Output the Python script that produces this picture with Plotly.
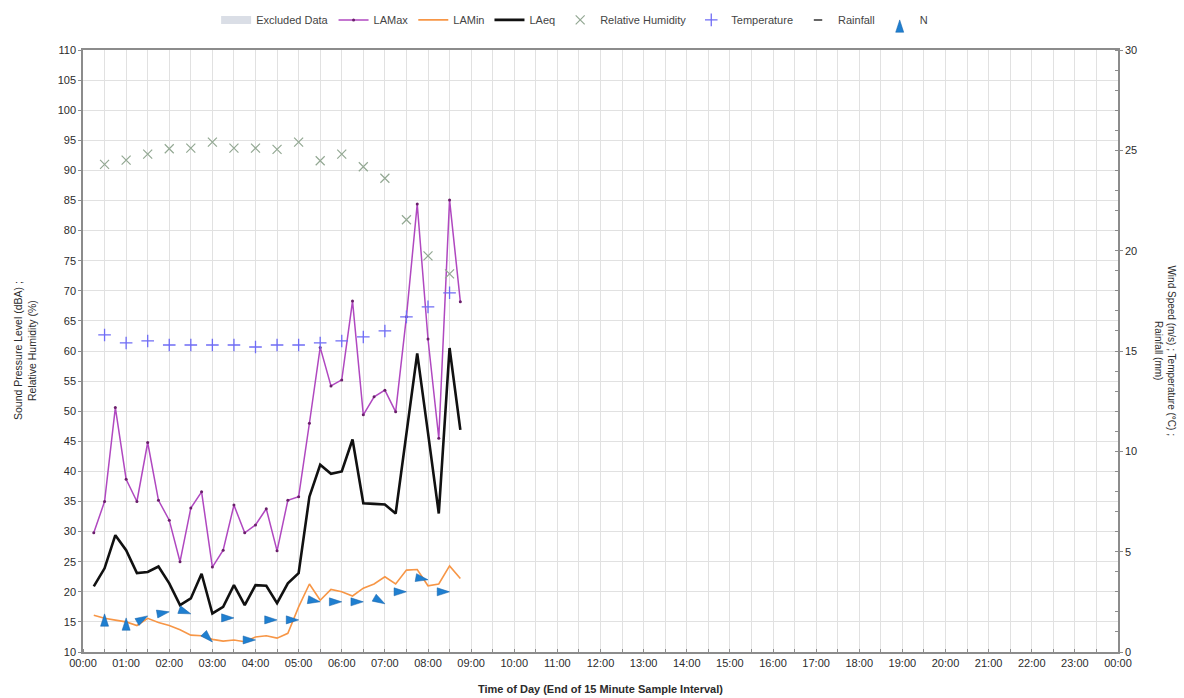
import plotly.graph_objects as go

# 15-minute sample end times (hours after midnight)
t15 = [0.25 * i for i in range(1, 36)]
# 30-minute weather observation times
t30 = [0.5 * i for i in range(1, 18)]

la_max = [29.8, 35.0, 50.6, 38.7, 35.0, 44.8, 35.2, 31.9, 25.0, 33.9, 36.6, 24.1,
          26.9, 34.4, 29.8, 31.1, 33.8, 26.8, 35.2, 35.8, 48.0, 60.6, 54.2, 55.2,
          68.3, 49.4, 52.4, 53.5, 49.9, 65.7, 84.4, 62.0, 45.5, 85.1, 68.2]
la_min = [16.1, 15.6, 15.3, 15.0, 14.4, 15.6, 14.9, 14.4, 13.7, 12.8, 12.7, 12.1,
          11.8, 12.0, 11.7, 12.5, 12.7, 12.3, 13.1, 17.5, 21.3, 18.6, 20.4, 20.0,
          19.3, 20.6, 21.3, 22.5, 21.3, 23.6, 23.7, 21.0, 21.3, 24.3, 22.2]
la_eq = [20.9, 23.9, 29.4, 26.9, 23.1, 23.3, 24.2, 21.4, 17.8, 18.9, 23.0, 16.4,
         17.5, 21.1, 17.8, 21.1, 21.0, 18.1, 21.4, 23.1, 35.8, 41.1, 39.6, 40.0,
         45.3, 34.7, 34.6, 34.5, 33.0, 46.4, 59.6, 46.4, 33.0, 60.5, 46.9]

rel_humidity = [91.0, 91.7, 92.7, 93.6, 93.7, 94.7, 93.7, 93.7, 93.5, 94.7,
                91.6, 92.7, 90.6, 88.7, 81.8, 75.8, 72.8]
temperature = [15.8, 15.4, 15.5, 15.3, 15.3, 15.3, 15.3, 15.2, 15.3, 15.3,
               15.4, 15.5, 15.7, 16.0, 16.7, 17.2, 17.9]
wind_speed = [1.9, 1.7, 1.8, 2.0, 1.9, 0.5, 1.7, 0.6, 1.6, 1.6,
              2.5, 2.5, 2.5, 2.4, 3.0, 3.6, 3.0]
# direction the wind arrow points (degrees clockwise from up)
wind_dir = [0, 0, 60, 80, 110, 135, 90, 90, 90, 90,
            100, 90, 90, 120, 90, 100, 90]

hour_labels = ["%02d:00" % h for h in range(24)] + ["00:00"]

FONT = "Liberation Sans, Arial, sans-serif"
GRID = "#e1e1e1"
AXIS = "#8c8c8c"
TXT = "#2b2b2b"

fig = go.Figure()

# legend-only entries (no samples excluded, no rainfall recorded)
fig.add_trace(go.Scatter(x=[None], y=[None], name="Excluded Data", mode="lines",
                         line=dict(color="#dadee6", width=8)))
fig.add_trace(go.Scatter(x=t15, y=la_max, name="LAMax", mode="lines+markers",
                         line=dict(color="#b048c0", width=1.5),
                         marker=dict(color="#6a1f6a", size=3)))
fig.add_trace(go.Scatter(x=t15, y=la_min, name="LAMin", mode="lines",
                         line=dict(color="#f79646", width=1.6)))
fig.add_trace(go.Scatter(x=t15, y=la_eq, name="LAeq", mode="lines",
                         line=dict(color="#111111", width=2.6)))
fig.add_trace(go.Scatter(x=t30, y=rel_humidity, name="Relative Humidity", mode="markers",
                         marker=dict(symbol="x-thin", size=9, color="#93a893",
                                     line=dict(color="#93a893", width=1.2))))
fig.add_trace(go.Scatter(x=t30, y=temperature, name="Temperature", mode="markers",
                         yaxis="y2",
                         marker=dict(symbol="cross-thin", size=9, color="#6f6cf5",
                                     line=dict(color="#6f6cf5", width=1.3))))
fig.add_trace(go.Scatter(x=[None], y=[None], name="Rainfall", mode="markers",
                         yaxis="y2",
                         marker=dict(symbol="line-ew", size=6, color="#333333",
                                     line=dict(color="#333333", width=1.5))))
fig.add_trace(go.Scatter(x=t30, y=wind_speed, name="N", mode="markers",
                         yaxis="y2",
                         marker=dict(symbol="arrow", size=13, color="#1f7fd0",
                                     angle=wind_dir,
                                     line=dict(color="#1560a8", width=0.5))))

fig.update_layout(
    width=1184, height=698,
    margin=dict(l=83, r=66, t=50, b=46, autoexpand=False),
    paper_bgcolor="white", plot_bgcolor="white",
    font=dict(family=FONT, size=11, color=TXT),
    showlegend=True,
    legend=dict(orientation="h", x=0.475, xanchor="center", y=1.05, yanchor="middle",
                font=dict(size=11, color="#444444"), itemwidth=30,
                bgcolor="rgba(0,0,0,0)"),
    xaxis=dict(range=[0, 24], tickvals=list(range(25)), ticktext=hour_labels,
               showgrid=True, gridcolor=GRID, gridwidth=1,
               showline=True, linecolor=AXIS, linewidth=1.5, mirror=True,
               ticks="", zeroline=False,
               minor=dict(dtick=0.5, showgrid=True, gridcolor=GRID,
                          ticks="inside", ticklen=3, tickcolor=AXIS),
               tickfont=dict(size=11, color=TXT)),
    yaxis=dict(range=[10, 110], dtick=5, showgrid=True, gridcolor=GRID,
               showline=True, linecolor=AXIS, linewidth=1.5,
               ticks="outside", ticklen=3, tickcolor=AXIS, zeroline=False,
               tickfont=dict(size=11, color=TXT)),
    yaxis2=dict(range=[0, 30], dtick=5, overlaying="y", side="right",
                showgrid=False, showline=True, linecolor=AXIS, linewidth=1.5,
                ticks="outside", ticklen=3, tickcolor=AXIS, zeroline=False,
                minor=dict(dtick=1, ticks="inside", ticklen=3, tickcolor=AXIS),
                tickfont=dict(size=11, color=TXT)),
)

fig.add_annotation(text="<b>Time of Day (End of 15 Minute Sample Interval)</b>",
                   xref="paper", yref="paper", x=0.5, y=-0.062,
                   xanchor="center", yanchor="middle", showarrow=False,
                   font=dict(size=11, color=TXT))
fig.add_annotation(text="Sound Pressure Level (dBA) ;<br>Relative Humidity (%)",
                   xref="paper", yref="paper", x=-0.056, y=0.5,
                   xanchor="center", yanchor="middle", textangle=-90, showarrow=False,
                   font=dict(size=10.5, color=TXT))
fig.add_annotation(text="Wind Speed (m/s) ; Temperature (°C) ;<br>Rainfall (mm)",
                   xref="paper", yref="paper", x=1.045, y=0.5,
                   xanchor="center", yanchor="middle", textangle=90, showarrow=False,
                   font=dict(size=10, color=TXT))

fig.write_html("out.html")
